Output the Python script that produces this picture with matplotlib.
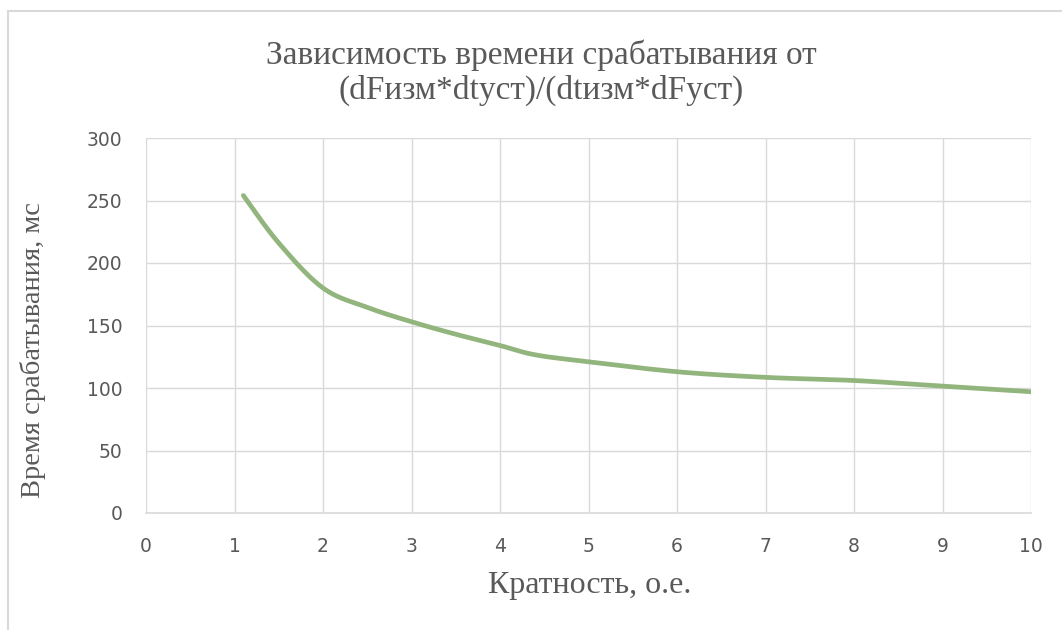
import numpy as np
import matplotlib.pyplot as plt
from matplotlib.patches import Rectangle

# values
kratnost = [1.1, 1.5, 2, 2.5, 3, 3.5, 4, 4.4, 5, 6, 7, 8, 9, 10]
vremya = [254, 216, 180, 164.5, 153, 143, 134, 126.5, 121, 113, 108.5, 106, 101.5, 97]
x_ticks = list(range(0, 11))
y_ticks = [0, 50, 100, 150, 200, 250, 300]

title = "Зависимость времени срабатывания от\n(dFизм*dtуст)/(dtизм*dFуст)"
x_label = "Кратность, о.е."
y_label = "Время срабатывания, мс"

text_color = "#595959"
grid_color = "#d9d9d9"
line_color = "#92b57d"


def smooth_curve(xs, ys, n=50):
    # Catmull-Rom style smoothing, like Excel's "smoothed line"
    xs = np.asarray(xs, float)
    ys = np.asarray(ys, float)
    px = np.concatenate([[xs[0]], xs, [xs[-1]]])
    py = np.concatenate([[ys[0]], ys, [ys[-1]]])
    out_x, out_y = [], []
    t = np.linspace(0, 1, n)
    for i in range(1, len(px) - 2):
        p0 = np.array([px[i], py[i]])
        p3 = np.array([px[i + 1], py[i + 1]])
        c1 = p0 + (np.array([px[i + 1], py[i + 1]]) - np.array([px[i - 1], py[i - 1]])) / 6
        c2 = p3 - (np.array([px[i + 2], py[i + 2]]) - np.array([px[i], py[i]])) / 6
        b = ((1 - t) ** 3)[:, None] * p0 + (3 * (1 - t) ** 2 * t)[:, None] * c1 \
            + (3 * (1 - t) * t ** 2)[:, None] * c2 + (t ** 3)[:, None] * p3
        out_x.extend(b[:, 0])
        out_y.extend(b[:, 1])
    return out_x, out_y


fig = plt.figure(figsize=(10.62, 6.3), dpi=100)
W, H = 1062, 630
ax = fig.add_axes([146 / W, 1 - 513 / H, (1031 - 146) / W, (513 - 138) / H])

sx, sy = smooth_curve(kratnost, vremya)
ax.plot(sx, sy, color=line_color, lw=3.4, solid_capstyle='round', zorder=3)

ax.set_xlim(0, 10)
ax.set_ylim(0, 300)
ax.set_xticks(x_ticks)
ax.set_yticks(y_ticks)
ax.grid(True, color=grid_color, lw=1)
ax.set_axisbelow(True)
for s in ['top', 'right', 'left']:
    ax.spines[s].set_visible(False)
ax.spines['bottom'].set_color(grid_color)
ax.spines['bottom'].set_linewidth(1.2)
ax.tick_params(axis='both', length=0, colors=text_color, labelsize=13.5)
ax.tick_params(axis='x', pad=17)
ax.tick_params(axis='y', pad=17)

fig.text(541 / W, 1 - 73 / H, title, ha='center', va='center', fontsize=24,
         family='Liberation Serif', color=text_color, linespacing=1.15)
fig.text(590 / W, 1 - 585 / H, x_label, ha='center', va='center', fontsize=23,
         family='Liberation Serif', color=text_color)
fig.text(33 / W, 1 - 350 / H, y_label, ha='center', va='center', rotation=90,
         fontsize=20.5, family='Liberation Serif', color=text_color)

# chart frame
fig.patches.append(Rectangle((8 / W, -0.1), 1.2, 1.1 - 11 / H, transform=fig.transFigure,
                             fill=False, edgecolor=grid_color, lw=1.5))

fig.savefig("out.png", dpi=100)
